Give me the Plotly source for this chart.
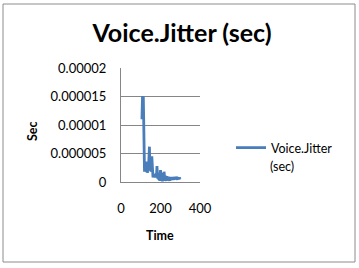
import plotly.graph_objects as go

time = [106, 107, 108, 109, 110, 111, 112, 113, 114, 115, 116, 117, 118, 119, 120,
        122, 124, 126, 128, 130, 132, 134, 136, 138, 140, 142, 144, 146, 148, 150,
        152, 154, 156, 158, 160, 162, 164, 166, 168, 170, 172, 174, 176, 178, 180,
        182, 184, 186, 188, 190, 192, 194, 196, 198, 200, 202, 204, 206, 208, 210,
        212, 214, 216, 218, 220, 222, 224, 226, 228, 230, 232, 234, 236, 238, 240,
        242, 244, 246, 248, 250, 252, 254, 256, 258, 260, 262, 264, 266, 268, 270,
        272, 274, 276, 278, 280, 282, 284, 286, 288, 290, 292, 294, 296, 298, 300]

jitter_us = [11.0, 14.8, 12.5, 15.1, 13.0, 14.5, 11.8, 15.0, 12.0, 8.0, 3.0, 2.0, 3.5, 1.8, 2.8,
             1.9, 3.4, 2.0, 3.6, 1.7, 2.5, 1.6, 3.2, 2.2, 3.0, 5.8, 6.2, 3.0, 2.0, 3.5,
             1.8, 2.4, 4.5, 1.9, 1.3, 0.8, 1.2, 0.9, 1.4, 1.0, 0.8, 1.2, 0.9, 1.5, 1.1,
             2.8, 1.0, 0.6, 1.6, 0.9, 0.4, 1.2, 0.2, 0.9, 2.1, 1.0, 0.3, 1.6, 0.5, 0.1,
             1.3, 0.6, 0.2, 1.8, 0.7, 0.3, 1.1, 0.4, 0.9, 0.2, 1.0, 0.5, 0.8, 0.3, 0.9,
             0.4, 0.7, 0.2, 0.8, 0.5, 0.9, 0.3, 0.6, 0.8, 0.4, 0.7, 0.5, 0.9, 0.6, 0.4,
             0.8, 0.5, 0.7, 0.6, 0.9, 0.5, 0.7, 0.4, 0.8, 0.6, 0.7, 0.5, 0.8, 0.6, 0.7]

jitter = [v * 1e-6 for v in jitter_us]

y_tickvals = [0, 0.000005, 0.00001, 0.000015, 0.00002]
y_ticktext = ["0", "0.000005", "0.00001", "0.000015", "0.00002"]
x_tickvals = [0, 200, 400]

FONT = "Lato"

fig = go.Figure()
fig.add_trace(go.Scatter(
    x=time, y=jitter, mode="lines", name="Voice.Jitter",
    line=dict(color="#4a7ebb", width=2.8),
))

L, R, T, B = 121, 159, 68, 86
W, H = 359, 268
pw, ph = W - L - R, H - T - B

def px(x):
    return (x - L) / pw

def py(y):
    return (H - B - y) / ph

fig.update_layout(
    width=W, height=H,
    margin=dict(l=L, r=R, t=T, b=B),
    paper_bgcolor="white", plot_bgcolor="white",
    font=dict(family=FONT, size=13, color="black"),
    title=dict(text="<b>Voice.Jitter (sec)</b>", x=182 / W, xanchor="center",
               y=1 - 33 / H, yanchor="middle",
               font=dict(family=FONT, size=25, color="black")),
    showlegend=True,
    legend=dict(x=px(231), y=py(148), xanchor="left", yanchor="middle",
                font=dict(family=FONT, size=12.5), bgcolor="rgba(0,0,0,0)",
                itemwidth=30),
    annotations=[
        dict(text="(sec)", xref="paper", yref="paper",
             x=px(268), y=py(166), xanchor="left", yanchor="middle",
             showarrow=False, font=dict(family=FONT, size=12.5)),
        dict(text="<b>Sec</b>", xref="paper", yref="paper", textangle=-90,
             x=px(32), y=py(131), xanchor="center", yanchor="middle",
             showarrow=False, font=dict(family=FONT, size=12.5)),
        dict(text="<b>Time</b>", xref="paper", yref="paper",
             x=px(160), y=py(235), xanchor="center", yanchor="middle",
             showarrow=False, font=dict(family=FONT, size=12.5)),
    ],
    xaxis=dict(range=[0, 400], tickvals=x_tickvals, showgrid=False,
               showline=True, linecolor="#868686", linewidth=1,
               ticks="", ticklabelstandoff=14, zeroline=False),
    yaxis=dict(range=[0, 0.00002], tickvals=y_tickvals, ticktext=y_ticktext,
               showgrid=True, gridcolor="#868686", gridwidth=1,
               showline=True, linecolor="#868686", linewidth=1,
               ticks="", ticklabelstandoff=11, zeroline=False),
    shapes=[dict(type="rect", xref="paper", yref="paper",
                 x0=px(3), x1=px(355), y0=py(262), y1=py(4),
                 line=dict(color="#8c8c8c", width=1), layer="below")],
)

fig.write_html("out.html")
